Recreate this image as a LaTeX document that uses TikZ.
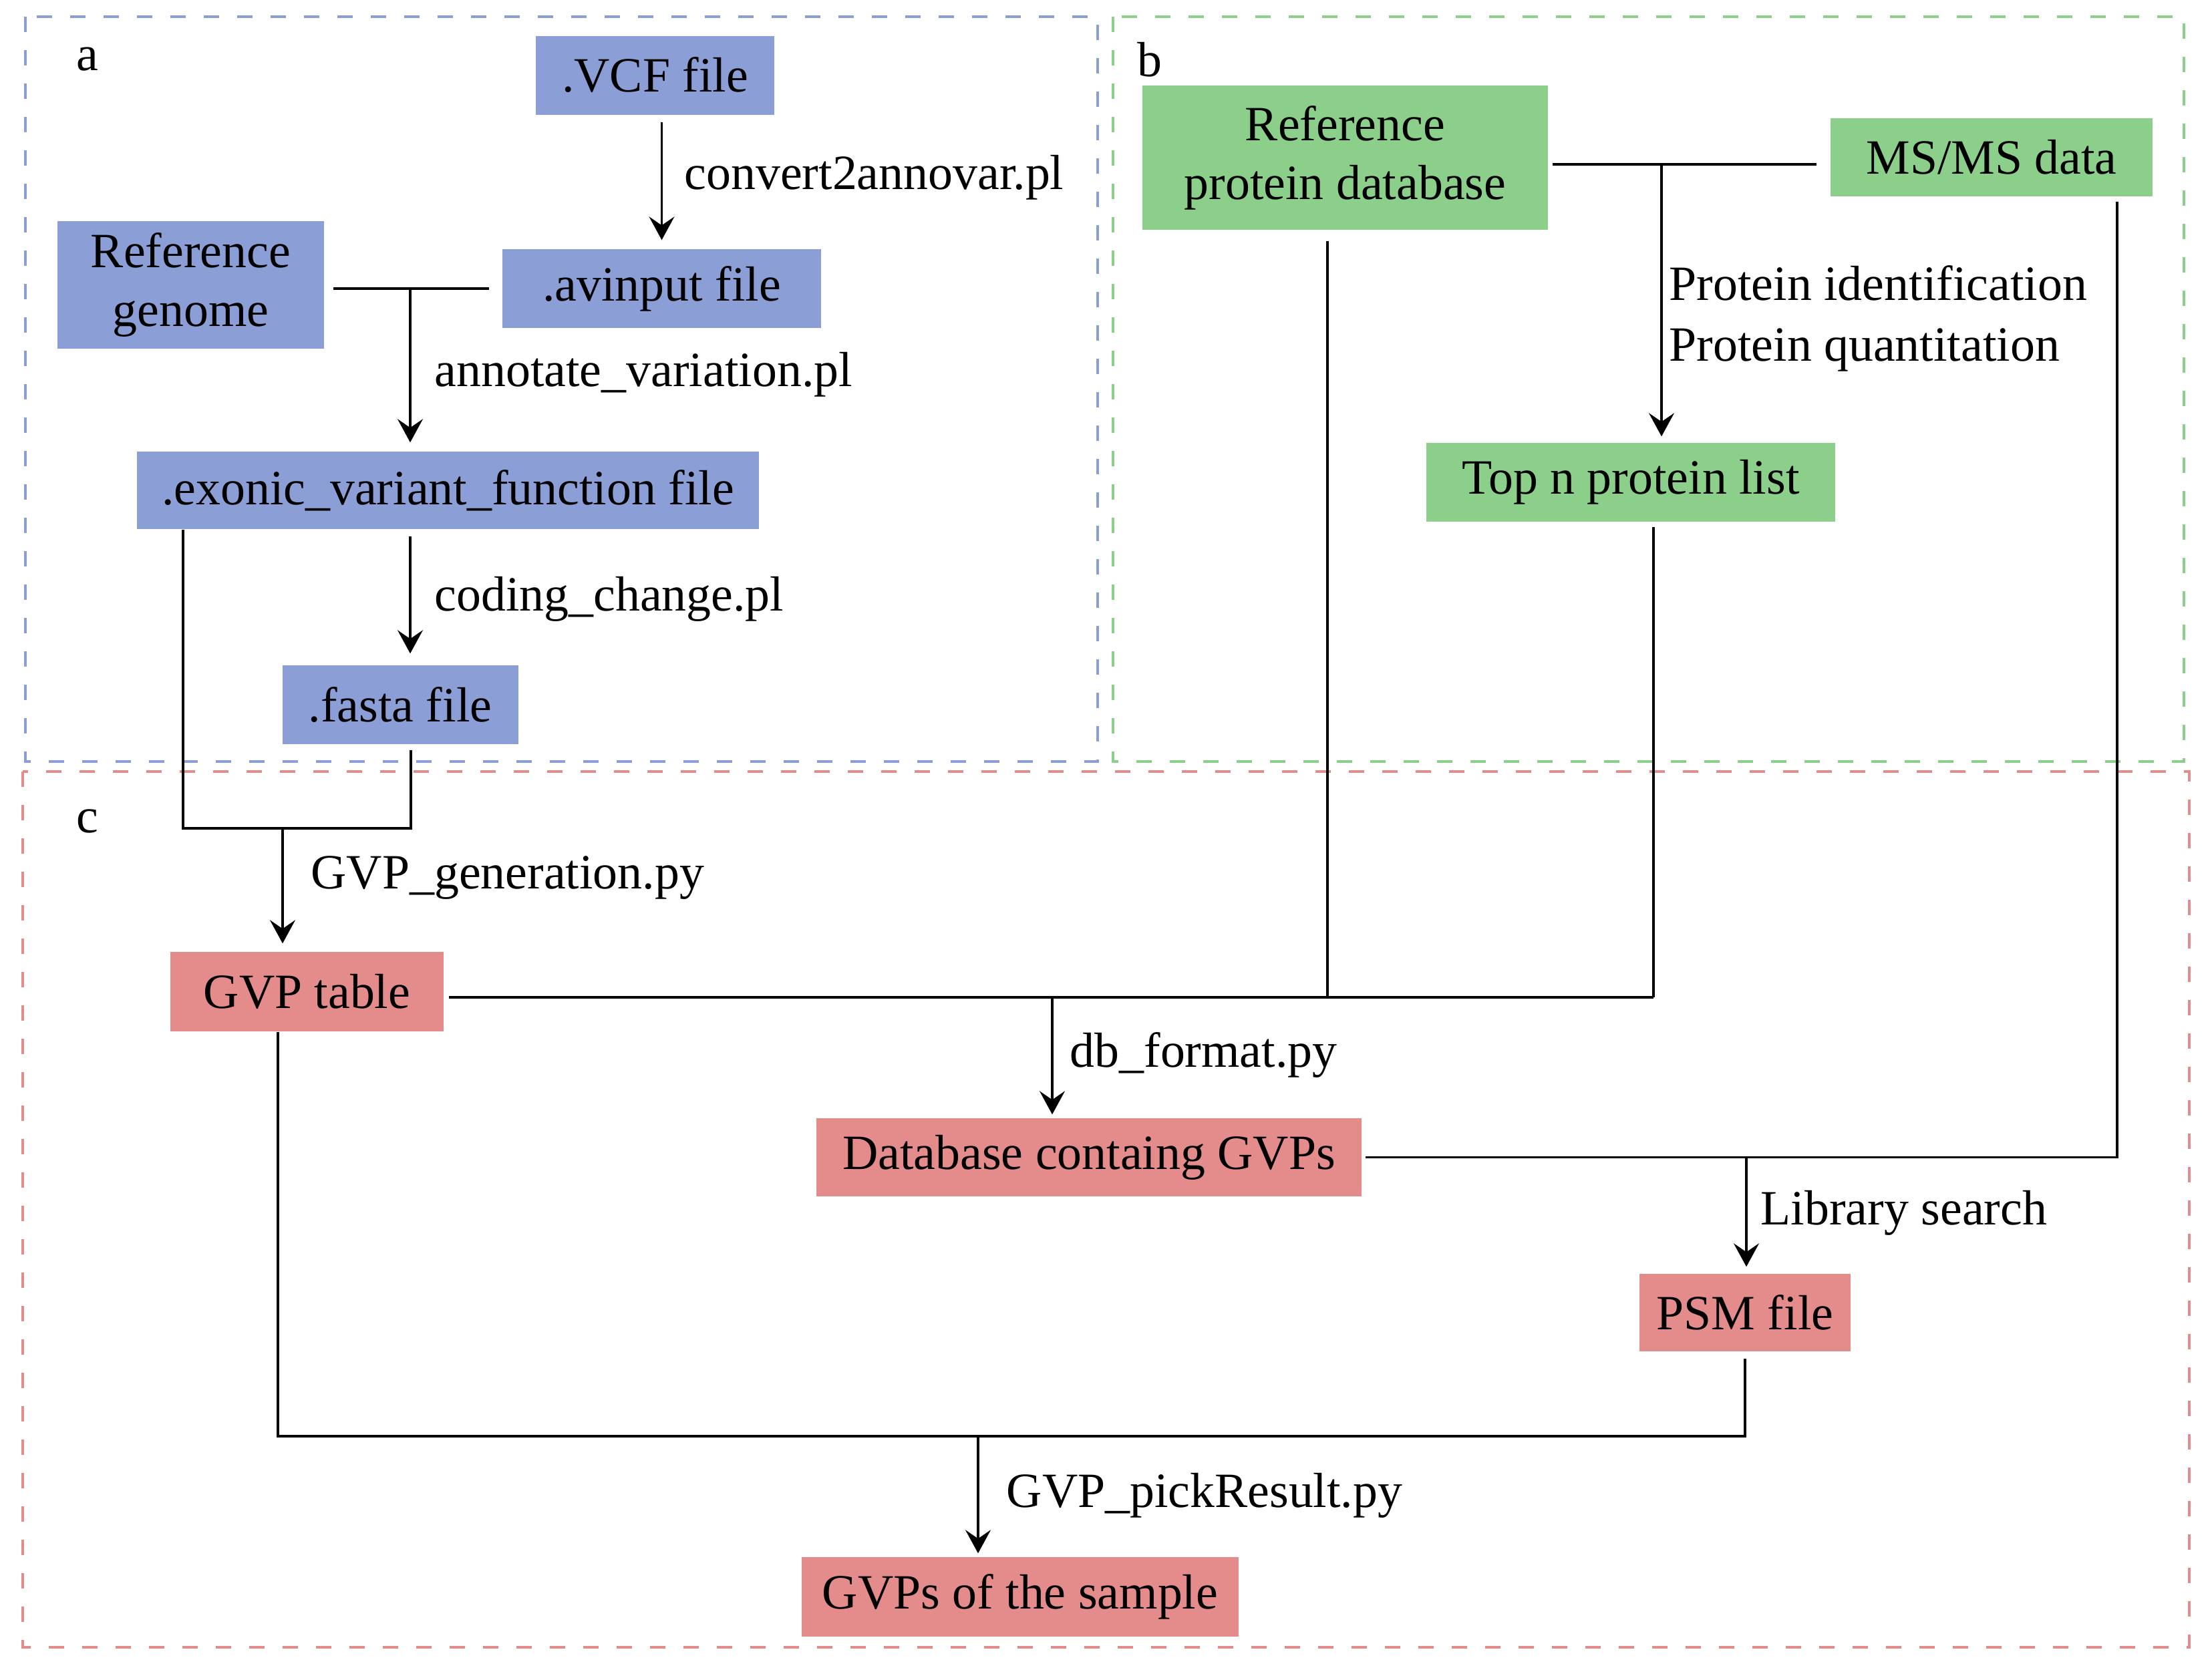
\documentclass[tikz,border=0pt]{standalone}
\usepackage{fontspec}
\setmainfont{Liberation Serif}
\usetikzlibrary{positioning, arrows.meta, calc}

\definecolor{fileblue}{RGB}{139,158,214}
\definecolor{protgreen}{RGB}{139,207,139}
\definecolor{gvpred}{RGB}{228,140,140}

\begin{document}
\begin{tikzpicture}[
    % GLOBAL CFG
    >={Stealth[length=3.5mm, width=3.8mm, inset=1.3mm]},
    font=\fontsize{21}{25}\selectfont,
    % Styles
    box/.style={% For the coloured boxes
        rectangle,
        inner sep=0pt,
        align=center,
        },
    bluebox/.style={box, fill=fileblue},
    greenbox/.style={box, fill=protgreen},
    redbox/.style={box, fill=gvpred},
    lbl/.style={% For the script names next to arrows
        anchor=west,
        inner sep=0pt,
        align=left,
        },
    panel/.style={% Dashed frames a, b, c
        dash pattern=on 2.3mm off 2.7mm,
        line width=1pt,
        },
    LineC/.style={% Plain connectors
        line width=0.9pt,
        },
    ArrowC/.style={% Arrows
        ->,
        line width=0.9pt,
        },
    ]
\useasboundingbox (0,0) rectangle (33.11,-25.11);

% Frames
\draw [panel, fileblue] (0.38,-0.25) rectangle (16.43,-11.40);
\draw [panel, protgreen] (16.66,-0.25) rectangle (32.69,-11.40);
\draw [panel, gvpred] (0.34,-11.55) rectangle (32.77,-24.66);
\node (pa) at (1.31,-0.89) {a};
\node (pb) at (17.21,-0.89) {b};
\node (pc) at (1.31,-12.29) {c};

% Part a: boxes
\node [bluebox, minimum width=3.57cm, minimum height=1.18cm] (vcf) at (9.805,-1.125) {.VCF file};
\node [bluebox, minimum width=3.99cm, minimum height=1.91cm] (refgen) at (2.855,-4.265) {Reference\\genome};
\node [bluebox, minimum width=4.77cm, minimum height=1.18cm] (avin) at (9.905,-4.32) {.avinput file};
\node [bluebox, minimum width=9.31cm, minimum height=1.16cm] (exonic) at (6.705,-7.34) {.exonic\_variant\_function file};
\node [bluebox, minimum width=3.53cm, minimum height=1.18cm] (fasta) at (5.99,-10.55) {.fasta file};

% Part b: boxes
\node [greenbox, minimum width=6.07cm, minimum height=2.16cm] (refprot) at (20.135,-2.36) {Reference\\protein database};
\node [greenbox, minimum width=4.82cm, minimum height=1.17cm] (msms) at (29.81,-2.355) {MS/MS data};
\node [greenbox, minimum width=6.12cm, minimum height=1.18cm] (topn) at (24.41,-7.22) {Top n protein list};

% Part c: boxes
\node [redbox, minimum width=4.09cm, minimum height=1.19cm] (gvptab) at (4.595,-14.845) {GVP table};
\node [redbox, minimum width=8.16cm, minimum height=1.17cm] (dbgvp) at (16.30,-17.325) {Database containg GVPs};
\node [redbox, minimum width=3.16cm, minimum height=1.16cm] (psm) at (26.12,-19.65) {PSM file};
\node [redbox, minimum width=6.54cm, minimum height=1.19cm] (sample) at (15.27,-23.905) {GVPs of the sample};

% Junction points
\coordinate (j1) at (6.14,-4.32);
\coordinate (c1) at (2.74,-12.40);
\coordinate (c2) at (6.15,-12.40);
\coordinate (j3) at (4.23,-12.40);
\coordinate (j4) at (24.87,-2.46);
\coordinate (k1) at (19.87,-14.93);
\coordinate (k2) at (24.75,-14.93);
\coordinate (j5) at (15.75,-14.93);
\coordinate (k3) at (31.69,-17.32);
\coordinate (j6) at (26.14,-17.32);
\coordinate (k4) at (4.16,-21.50);
\coordinate (j7) at (14.64,-21.50);

% Part a: connectors
\draw [ArrowC, shorten <=1.1mm, shorten >=1.3mm] (vcf.south -| avin.north) -- (avin.north);
\node [lbl] (lconv) at (10.24,-2.66) {convert2annovar.pl};
\draw [LineC, shorten <=1.3mm, shorten >=1.9mm] (refgen.east |- avin.west) -- (avin.west);
\draw [ArrowC, shorten >=1.3mm] (j1) -- (j1 |- exonic.north);
\node [lbl] (lanno) at (6.50,-5.61) {annotate\_variation.pl};
\draw [ArrowC, shorten <=1mm, shorten >=1.7mm] (exonic.south -| j1) -- (fasta.north -| j1);
\node [lbl] (lcode) at (6.50,-8.97) {coding\_change.pl};
\draw [LineC, shorten >=0.8mm] (exonic.south -| c1) |- (c2) -- (fasta.south -| c2);
\draw [ArrowC, shorten >=1.2mm] (j3) -- (j3 |- gvptab.north);
\node [lbl] (lgen) at (4.65,-13.14) {GVP\_generation.py};

% Part b: connectors
\draw [LineC, shorten <=0.6mm, shorten >=2mm] (refprot.east |- j4) -- (msms.west |- j4);
\draw [ArrowC, shorten >=0.9mm] (j4) -- (j4 |- topn.north);
\node [lbl, text depth=0pt] (lprot) at (24.98,-4.69) {Protein identification\\[1pt]Protein quantitation};

% Part c: connectors
\draw [LineC, shorten <=0.7mm] (gvptab.east |- k1) -- (k2);
\draw [LineC, shorten <=1.6mm] (refprot.south -| k1) -- (k1);
\draw [LineC, shorten <=0.7mm] (topn.south -| k2) -- (k2);
\draw [ArrowC, shorten >=0.5mm] (j5) -- (j5 |- dbgvp.north);
\node [lbl] (ldb) at (16.01,-15.79) {db\_format.py};
\draw [LineC, shorten <=0.7mm, shorten >=0.5mm] (msms.south -| k3) |- (dbgvp.east);
\draw [ArrowC, shorten >=1mm] (j6) -- (j6 |- psm.north);
\node [lbl] (llib) at (26.35,-18.16) {Library search};
\draw [LineC, shorten >=1mm] (gvptab.south -| k4) |- (psm.south |- k4) -- (psm.south);
\draw [ArrowC, shorten >=0.5mm] (j7) -- (j7 |- sample.north);
\node [lbl] (lpick) at (15.06,-22.39) {GVP\_pickResult.py};

\end{tikzpicture}
\end{document}
